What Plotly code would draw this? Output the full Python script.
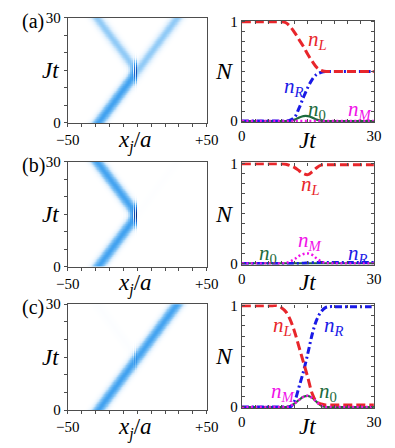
import numpy as np
import plotly.graph_objects as go

# ---- occupations, Jt = 0..30 ----
jt = list(range(31))

nL_a = [1.0] * 9 + [1.0, 0.99, 0.95, 0.89, 0.82, 0.75, 0.67, 0.6, 0.54, 0.51, 0.5] + [0.5] * 11
nR_a = [0.0] * 11 + [0.01, 0.04, 0.13, 0.24, 0.34, 0.42, 0.47, 0.49, 0.5] + [0.5] * 11
n0_a = [0.0] * 11 + [0.005, 0.015, 0.035, 0.05, 0.05, 0.035, 0.015, 0.005] + [0.0] * 12
nM_a = [0.0] * 31

nL_b = [1.0] * 10 + [0.995, 0.98, 0.96, 0.93, 0.9, 0.89, 0.92, 0.96, 0.985, 0.99] + [0.99] * 11
nR_b = [0.0] * 14 + [0.002, 0.005, 0.008, 0.01] + [0.01] * 13
n0_b = [0.0] * 31
nM_b = [0.0] * 10 + [0.005, 0.02, 0.045, 0.075, 0.095, 0.1, 0.085, 0.05, 0.02, 0.005] + [0.0] * 11

nL_c = [1.0] * 9 + [0.98, 0.94, 0.86, 0.74, 0.59, 0.44, 0.29, 0.13, 0.05, 0.03, 0.02] + [0.02] * 11
nR_c = [0.0] * 12 + [0.06, 0.2, 0.35, 0.53, 0.72, 0.86, 0.94, 0.98, 0.99] + [0.99] * 10
n0_c = [0.0] * 11 + [0.01, 0.035, 0.07, 0.1, 0.11, 0.09, 0.05, 0.015] + [0.0] * 12
nM_c = [0.0] * 11 + [0.01, 0.035, 0.07, 0.1, 0.11, 0.09, 0.05, 0.015] + [0.0] * 12

# ---- wave-packet parameters ----
panel_tags = ['(a)', '(b)', '(c)']
refl_prob = [0.5, 0.98, 0.02]     # weight of the reflected arm
trans_prob = [0.5, 0.01, 0.98]    # weight of the transmitted arm
x_start = -28.0                   # packet centre at Jt = 0
speed = 1.9                       # sites per unit Jt
width = 3.2                       # packet width (sites)
k_fringe = 2.1                    # fringe wavenumber near the scatterer
x_fringe = -0.6                   # position of the darkest fringe

occupations = [
    (nL_a, nR_a, n0_a, nM_a),
    (nL_b, nR_b, n0_b, nM_b),
    (nL_c, nR_c, n0_c, nM_c),
]

# label positions (page pixels) of n_L, n_R, n_0, n_M in each row
label_px = [
    [(325, 33), (300, 82), (325, 106), (370, 106)],
    [(318, 183), (368, 255), (272, 255), (317, 242)],
    [(288, 330), (343, 330), (336, 398), (288, 398)],
]

# the page body keeps an 8px margin, so the figure is drawn 8px in and down
OFF = 8
FW, FH = 395 - OFF, 448 - OFF


def fx(px):
    return (px - OFF) / FW


def fy(py):
    return 1 - (py - OFF) / FH


# panel boxes in page pixels: (left top, left bottom, right top, right bottom)
rows_px = [(10, 119, 12.7, 118.3), (159, 268, 160, 266), (307, 417, 307.3, 415)]
left_x = [fx(59), fx(207)]
right_x = [fx(244.5), fx(385.3)]

serif = 'Times New Roman, Liberation Serif, DejaVu Serif, serif'
colors = {'L': '#e8262b', 'R': '#1a1ae6', '0': '#1d6b3c', 'M': '#f011e8'}

x = np.arange(-50, 50.001, 0.25)
t = np.arange(0, 30.001, 0.2)
X, T = np.meshgrid(x, t)
centre = x_start + speed * T
g_in = np.exp(-(X - centre) ** 2 / (4 * width ** 2))
g_ref = np.exp(-(X + centre) ** 2 / (4 * width ** 2))

cscale = [
    [0.0, 'rgb(255,255,255)'],
    [0.05, 'rgb(222,239,253)'],
    [0.13, 'rgb(140,200,246)'],
    [0.25, 'rgb(66,162,240)'],
    [0.5, 'rgb(25,108,214)'],
    [1.0, 'rgb(6,40,128)'],
]

fig = go.Figure()
annotations = []
layout = {}

for i in range(3):
    lt, lb, rt, rb = rows_px[i]
    hx, hy = 'x%d' % (2 * i + 1), 'y%d' % (2 * i + 1)
    lx, ly = 'x%d' % (2 * i + 2), 'y%d' % (2 * i + 2)

    # density of the packet, scatterer at x = 0
    r = np.sqrt(refl_prob[i])
    left_side = g_in ** 2 + r ** 2 * g_ref ** 2 + 2 * r * g_in * g_ref * np.cos(2 * k_fringe * (X - x_fringe))
    right_side = trans_prob[i] * g_in ** 2
    z = np.where(X < 0, left_side, right_side).round(3)

    fig.add_trace(go.Heatmap(
        x=x, y=t, z=z, colorscale=cscale, zmin=0, zmax=4,
        showscale=False, hoverinfo='skip', xaxis=hx, yaxis=hy
    ))

    nL, nR, n0, nM = occupations[i]
    fig.add_trace(go.Scatter(x=jt, y=n0, mode='lines', line=dict(color=colors['0'], width=2.2, shape='spline'),
                             xaxis=lx, yaxis=ly, showlegend=False))
    fig.add_trace(go.Scatter(x=jt, y=nR, mode='lines',
                             line=dict(color=colors['R'], width=3, dash='7px,3px,2px,3px', shape='spline'),
                             xaxis=lx, yaxis=ly, showlegend=False))
    fig.add_trace(go.Scatter(x=jt, y=nL, mode='lines',
                             line=dict(color=colors['L'], width=3, dash='9px,4px', shape='spline'),
                             xaxis=lx, yaxis=ly, showlegend=False))
    fig.add_trace(go.Scatter(x=jt, y=nM, mode='lines',
                             line=dict(color=colors['M'], width=2.5, dash='2px,2.5px', shape='spline'),
                             xaxis=lx, yaxis=ly, showlegend=False))

    axis_common = dict(showline=True, linecolor='#4d4d4d', linewidth=1.3, mirror=True,
                       showgrid=False, zeroline=False, ticklen=3, tickcolor='#4d4d4d',
                       tickfont=dict(family=serif, size=15, color='black'))

    layout['xaxis%d' % (2 * i + 1)] = dict(
        axis_common, domain=left_x, anchor=hy, range=[-50, 50], ticks='outside',
        tickvals=list(range(-50, 51, 10)),
        ticktext=['\u221250'] + [''] * 9 + ['+50'])
    layout['yaxis%d' % (2 * i + 1)] = dict(
        axis_common, domain=[fy(lb), fy(lt)], anchor=hx, range=[0, 30], ticks='outside',
        tickvals=list(range(0, 31, 5)), ticktext=['0', '', '', '', '', '', '30'])
    layout['xaxis%d' % (2 * i + 2)] = dict(
        axis_common, domain=right_x, anchor=ly, range=[0, 30], ticks='inside', mirror='allticks',
        tickvals=list(range(0, 31, 3)), ticktext=['0'] + [''] * 9 + ['30'])
    layout['yaxis%d' % (2 * i + 2)] = dict(
        axis_common, domain=[fy(rb), fy(rt)], anchor=lx, range=[-0.012, 1.012], ticks='inside',
        mirror='allticks', tickvals=[v / 10 for v in range(11)],
        ticktext=['0'] + [''] * 9 + ['1'])

    # panel tag and axis titles
    annotations.append(dict(x=fx(OFF), y=fy(lt + 4), text=panel_tags[i], xanchor='left',
                            font=dict(family=serif, size=20, color='black')))
    annotations.append(dict(x=fx(41), y=fy((lt + lb) / 2), text='<i>Jt</i>',
                            font=dict(family=serif, size=23, color='black')))
    annotations.append(dict(x=fx(131), y=fy(lb + 19), text='<i>x</i><sub><i>j</i></sub>/<i>a</i>',
                            font=dict(family=serif, size=23, color='black')))
    annotations.append(dict(x=fx(226), y=fy((rt + rb) / 2), text='<i>N</i>',
                            font=dict(family=serif, size=24, color='black')))
    annotations.append(dict(x=fx(315), y=fy(rb + 19), text='<i>Jt</i>',
                            font=dict(family=serif, size=23, color='black')))

    for (px, py), key in zip(label_px[i], ['L', 'R', '0', 'M']):
        sub = key if key == '0' else '<i>%s</i>' % key
        annotations.append(dict(x=fx(px), y=fy(py), text='<i>n</i><sub>%s</sub>' % sub,
                                font=dict(family=serif, size=21, color=colors[key])))

for a in annotations:
    a.setdefault('xanchor', 'center')
    a.update(xref='paper', yref='paper', showarrow=False, yanchor='middle')

fig.update_layout(
    width=FW, height=FH,
    margin=dict(l=0, r=0, t=0, b=0),
    paper_bgcolor='white', plot_bgcolor='white',
    showlegend=False,
    annotations=annotations,
    **layout
)

fig.write_html("out.html")
